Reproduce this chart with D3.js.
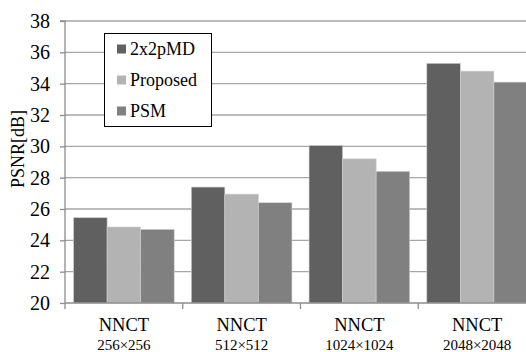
<!DOCTYPE html>
<html><head><meta charset="utf-8">
<script src="https://cdn.jsdelivr.net/npm/d3@7"></script>
<style>body{margin:0;background:#fff}svg{display:block}</style>
</head><body>
<svg id="c" width="526" height="352"></svg>
<script>
const categories = ["256×256","512×512","1024×1024","2048×2048"];
const seriesNames = ["2x2pMD","Proposed","PSM"];
const s2x2pMD = [25.45, 27.4, 30.05, 35.3];
const sProposed = [24.85, 26.95, 29.2, 34.8];
const sPSM = [24.7, 26.4, 28.4, 34.1];
const yTicks = [20,22,24,26,28,30,32,34,36,38];
const colors = ["#606060","#b3b3b3","#808080"];
const seriesVals = [s2x2pMD, sProposed, sPSM];

const svg = d3.select("#c");
const L = 65, R = 536, T = 21, B = 303;
const font = "'Liberation Serif','Times New Roman',serif";
const x = d3.scaleBand().domain(categories).range([L, R]).paddingInner(0).paddingOuter(0);
const xi = d3.scaleBand().domain(seriesNames).range([0, x.bandwidth()]).paddingOuter(0.255).paddingInner(0);
const y = d3.scaleLinear().domain([20, 38]).range([B, T]);

// gridlines
svg.append("g").selectAll("line").data(yTicks.slice(1)).join("line")
  .attr("x1", L).attr("x2", R).attr("y1", d => y(d)).attr("y2", d => y(d))
  .attr("stroke", "#a6a6a6").attr("stroke-width", 1.3);

// bars
const g = svg.append("g");
categories.forEach((c, i) => {
  seriesNames.forEach((s, j) => {
    const v = seriesVals[j][i];
    g.append("rect")
      .attr("x", x(c) + xi(s)).attr("width", xi.bandwidth())
      .attr("y", y(v)).attr("height", B - y(v))
      .attr("fill", colors[j]).attr("stroke", "#d0d0d0").attr("stroke-width", 0.6);
  });
});

// y axis
const ya = svg.append("g").attr("transform", `translate(${L},0)`)
  .call(d3.axisLeft(y).tickValues(yTicks).tickSize(5).tickPadding(10));
ya.select(".domain").attr("stroke", "#8c8c8c").attr("stroke-width", 1.3).attr("d", `M-5,${T}H0V${B}`);
ya.selectAll(".tick line").attr("stroke", "#8c8c8c").attr("stroke-width", 1.3);
ya.selectAll(".tick text").attr("font-family", font).attr("font-size", 20).attr("fill", "#000");

// x axis
svg.append("line").attr("x1", L).attr("x2", R).attr("y1", B).attr("y2", B)
  .attr("stroke", "#8c8c8c").attr("stroke-width", 1.3);
const bounds = categories.map(c => x(c)).concat([R]);
svg.append("g").selectAll("line").data(bounds).join("line")
  .attr("x1", d => d).attr("x2", d => d).attr("y1", B).attr("y2", B + 6)
  .attr("stroke", "#8c8c8c").attr("stroke-width", 1.3);

const xl = svg.append("g");
categories.forEach(c => {
  const cx = x(c) + x.bandwidth() / 2;
  xl.append("text").attr("x", cx).attr("y", 331).attr("text-anchor", "middle")
    .attr("font-family", font).attr("font-size", 18.5).text("NNCT");
  xl.append("text").attr("x", cx).attr("y", 349.5).attr("text-anchor", "middle")
    .attr("font-family", font).attr("font-size", 15).text(c);
});

// y title
svg.append("text").attr("transform", "translate(24,149) rotate(-90)")
  .attr("text-anchor", "middle").attr("font-family", font).attr("font-size", 18).text("PSNR[dB]");

// legend
const lg = svg.append("g");
lg.append("rect").attr("x", 104.5).attr("y", 33.5).attr("width", 107).attr("height", 93)
  .attr("fill", "#fff").attr("stroke", "#000").attr("stroke-width", 1);
seriesNames.forEach((s, j) => {
  const cy = 49 + j * 31;
  lg.append("rect").attr("x", 117).attr("y", cy - 4.5).attr("width", 9).attr("height", 9).attr("fill", colors[j]);
  lg.append("text").attr("x", 130).attr("y", cy + 6).attr("font-family", font).attr("font-size", 18).text(s);
});
</script>
</body></html>
